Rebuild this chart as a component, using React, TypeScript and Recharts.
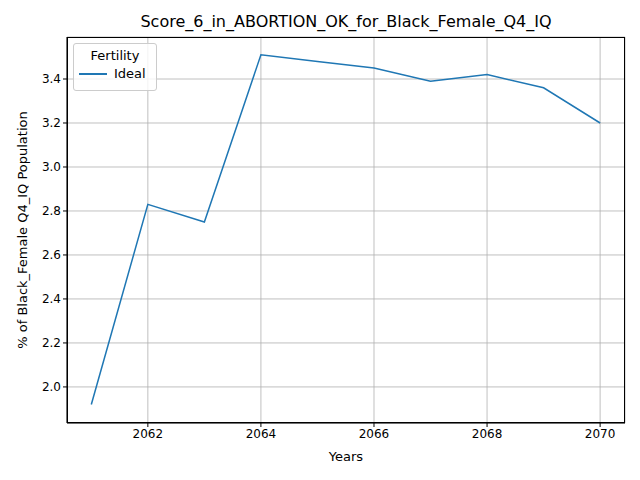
import { LineChart, Line, XAxis, YAxis, CartesianGrid } from "recharts";

const YEARS = [2061, 2062, 2063, 2064, 2065, 2066, 2067, 2068, 2069, 2070];
const IDEAL = [1.92, 2.83, 2.75, 3.51, 3.48, 3.45, 3.39, 3.42, 3.36, 3.2];
const X_TICKS = [2062, 2064, 2066, 2068, 2070];
const Y_TICKS = [2.0, 2.2, 2.4, 2.6, 2.8, 3.0, 3.2, 3.4];

const data = YEARS.map((y, i) => ({ year: y, ideal: IDEAL[i] }));
const font = "DejaVu Sans";

export default function App() {
  return (
    <div style={{ position: "absolute", left: 0, top: 0, width: 640, height: 480, background: "#fff", fontFamily: font }}>
      <LineChart width={640} height={480} data={data} margin={{ top: 37, right: 15, bottom: 27, left: 7 }}>
        <CartesianGrid stroke="#b0b0b0" strokeWidth={0.8} />
        <XAxis dataKey="year" type="number" domain={[2060.57, 2070.44]} ticks={X_TICKS} height={30}
          tick={{ fill: "#000", fontSize: 12, fontFamily: font }} stroke="#000" tickSize={4} allowDataOverflow />
        <YAxis type="number" domain={[1.836, 3.591]} ticks={Y_TICKS} width={60} allowDataOverflow
          tickFormatter={(v: number) => v.toFixed(1)}
          tick={{ fill: "#000", fontSize: 12, fontFamily: font }} stroke="#000" tickSize={4} />
        <Line dataKey="ideal" stroke="#1f77b4" strokeWidth={1.5} dot={false} isAnimationActive={false} />
      </LineChart>
      <div style={{ position: "absolute", left: 67, top: 37, width: 558, height: 386, border: "1px solid #000", boxSizing: "border-box", pointerEvents: "none" }} />
      <div style={{ position: "absolute", top: 12, left: 67, width: 558, textAlign: "center", fontSize: 16 }}>
        Score_6_in_ABORTION_OK_for_Black_Female_Q4_IQ
      </div>
      <div style={{ position: "absolute", top: 449, left: 67, width: 558, textAlign: "center", fontSize: 13 }}>Years</div>
      <div style={{ position: "absolute", left: 22, top: 230, transform: "translate(-50%,-50%) rotate(-90deg)", whiteSpace: "nowrap", fontSize: 13 }}>
        % of Black_Female Q4_IQ Population
      </div>
      <div style={{ position: "absolute", left: 73, top: 43, width: 82, height: 46, border: "1px solid #ccc", borderRadius: 3, background: "rgba(255,255,255,0.8)", fontSize: 13 }}>
        <div style={{ textAlign: "center", marginTop: 4 }}>Fertility</div>
        <div style={{ display: "flex", alignItems: "center", marginTop: 3, marginLeft: 5 }}>
          <span style={{ display: "inline-block", width: 28, height: 2, background: "#1f77b4", marginRight: 7 }} />
          Ideal
        </div>
      </div>
    </div>
  );
}
